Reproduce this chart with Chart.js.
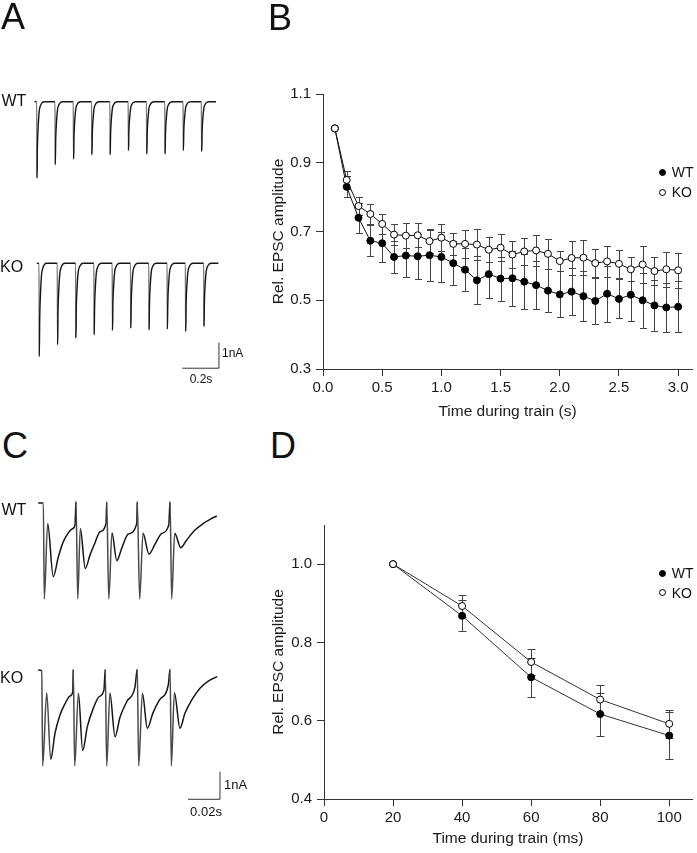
<!DOCTYPE html>
<html lang="en">
<head>
<meta charset="UTF-8">
<title>EPSC trains WT vs KO</title>
<script src="https://cdn.jsdelivr.net/npm/chart.js@4/dist/chart.umd.min.js"></script>
<style>
  html, body { margin: 0; padding: 0; background: #fff; }
  #fig { position: relative; width: 697px; height: 853px; overflow: hidden; font-family: "Liberation Sans", Arial, sans-serif; color: #111; }
  #fig canvas { position: absolute; }
  .lbl { position: absolute; line-height: 1; white-space: nowrap; }
  .panel { font-size: 36px; }
  .cond { font-size: 16px; }
  .bar { font-family: "Liberation Sans Narrow", "Liberation Sans", Arial, sans-serif; font-size: 12px; }
  .leg { font-size: 14px; }
  .dot { position: absolute; width: 7px; height: 7px; border-radius: 50%; box-sizing: border-box; border: 1px solid #000; }
</style>
</head>
<body>
<div id="fig">
  <canvas id="traceA" width="255" height="400" style="left:0;top:0"></canvas>
  <canvas id="chartB" width="442" height="345" style="left:255px;top:80px"></canvas>
  <canvas id="traceC" width="255" height="360" style="left:0;top:470px"></canvas>
  <canvas id="chartD" width="442" height="348" style="left:255px;top:505px"></canvas>

  <div class="lbl panel" style="left:1px;top:-1px">A</div>
  <div class="lbl panel" style="left:268px;top:-0.5px">B</div>
  <div class="lbl panel" style="left:2px;top:427.5px">C</div>
  <div class="lbl panel" style="left:270px;top:427.5px">D</div>

  <div class="lbl cond" style="left:1.5px;top:92.5px">WT</div>
  <div class="lbl cond" style="left:0;top:258.5px">KO</div>
  <div class="lbl cond" style="left:1.5px;top:501.5px">WT</div>
  <div class="lbl cond" style="left:0;top:669.5px">KO</div>

  <div class="lbl bar" style="left:222px;top:346.8px">1nA</div>
  <div class="lbl bar" style="left:181px;top:372.8px;width:40px;text-align:center">0.2s</div>
  <div class="lbl bar" style="left:224px;top:778px;font-size:13px">1nA</div>
  <div class="lbl bar" style="left:186px;top:805px;width:40px;text-align:center;font-size:13px">0.02s</div>

  <div class="dot" style="left:659.2px;top:168.5px;background:#000"></div>
  <div class="lbl leg" style="left:671.7px;top:165.2px">WT</div>
  <div class="dot" style="left:659.2px;top:188.5px;background:#fff"></div>
  <div class="lbl leg" style="left:671.7px;top:185.2px">KO</div>

  <div class="dot" style="left:659.2px;top:569.8px;background:#000"></div>
  <div class="lbl leg" style="left:671.7px;top:566.2px">WT</div>
  <div class="dot" style="left:659.2px;top:589.2px;background:#fff"></div>
  <div class="lbl leg" style="left:671.7px;top:586.2px">KO</div>
</div>

<script>
// ---- panel B: 10 Hz train, relative EPSC amplitude (mean, SEM)
var trainTimeS = [0.1, 0.2, 0.3, 0.4, 0.5, 0.6, 0.7, 0.8, 0.9, 1.0,
                  1.1, 1.2, 1.3, 1.4, 1.5, 1.6, 1.7, 1.8, 1.9, 2.0,
                  2.1, 2.2, 2.3, 2.4, 2.5, 2.6, 2.7, 2.8, 2.9, 3.0];
var wtRelB = [1.00, 0.830, 0.740, 0.673, 0.666, 0.626, 0.630, 0.628, 0.631, 0.626,
              0.608, 0.589, 0.558, 0.576, 0.563, 0.564, 0.554, 0.544, 0.528, 0.517,
              0.525, 0.512, 0.498, 0.519, 0.504, 0.516, 0.500, 0.485, 0.479, 0.481];
var wtSemB = [0, 0.030, 0.043, 0.045, 0.055, 0.047, 0.062, 0.066, 0.074, 0.074,
              0.063, 0.063, 0.070, 0.070, 0.064, 0.080, 0.080, 0.070, 0.062, 0.067,
              0.068, 0.072, 0.067, 0.082, 0.057, 0.076, 0.080, 0.074, 0.072, 0.074];
var koRelB = [1.00, 0.850, 0.774, 0.751, 0.722, 0.691, 0.688, 0.689, 0.672, 0.682,
              0.664, 0.664, 0.662, 0.647, 0.653, 0.633, 0.642, 0.645, 0.635, 0.614,
              0.623, 0.624, 0.608, 0.613, 0.606, 0.590, 0.604, 0.585, 0.590, 0.587];
var koSemB = [0, 0.025, 0.026, 0.030, 0.030, 0.030, 0.037, 0.035, 0.035, 0.040,
              0.033, 0.040, 0.044, 0.036, 0.040, 0.040, 0.040, 0.044, 0.043, 0.030,
              0.050, 0.050, 0.040, 0.046, 0.040, 0.035, 0.055, 0.040, 0.050, 0.050];

// ---- panel D: 50 Hz train
var trainTimeMs = [20, 40, 60, 80, 100];
var wtRelD = [1.00, 0.868, 0.711, 0.617, 0.562];
var wtSemD = [0, 0.040, 0.050, 0.055, 0.059];
var koRelD = [1.00, 0.893, 0.750, 0.654, 0.592];
var koSemD = [0, 0.029, 0.034, 0.036, 0.035];

// ---- panel A: example currents, 10 stimuli (s, nA peak)
var stimTimesA = [0, 0.1, 0.2, 0.3, 0.4, 0.5, 0.6, 0.7, 0.8, 0.9];
var wtPeaksA = [2.99, 2.47, 2.25, 2.08, 2.08, 1.91, 2.05, 2.05, 1.91, 1.95];
var koPeaksA = [3.65, 3.19, 2.93, 2.80, 2.63, 2.54, 2.61, 2.58, 2.67, 2.48];
// one EPSC: [s after stimulus, fraction of peak]
var epscShapeA = [[0, 0], [0.0015, -1], [0.004, -0.58], [0.0085, -0.31],
                  [0.014, -0.12], [0.021, -0.05], [0.03, -0.012], [0.042, 0]];

// ---- panel C: example currents at 50 Hz, [ms, nA]
var wtTraceC = [[-3.8, 0], [-0.6, 0], [0, -3.48], [2.1, -0.74], [5.6, -2.67], [8.8, -1.95], [11.9, -1.40], [15, -1.08], [17.1, -0.95], [19.2, -0.80],
  [19.8, 0.05], [20.9, -3.48], [22.5, -0.92], [25.6, -2.37], [28.6, -1.88], [31.7, -1.44], [34.8, -1.04], [38.6, -0.74],
  [39.0, 0.05], [40.3, -3.48], [42.3, -1.08], [45.3, -2.09], [48.4, -1.64], [52.5, -1.12], [57.8, -0.74],
  [58.1, 0.05], [59.6, -3.48], [61.7, -1.10], [65.4, -1.85], [69.2, -1.49], [73.4, -1.10], [77.8, -0.80],
  [78.6, 0.05], [79.6, -3.48], [81.5, -1.10], [85.3, -1.62], [89, -1.34], [94.2, -0.98], [99.4, -0.74], [103.6, -0.59], [107.8, -0.47]];
var koTraceC = [[-2.8, 0], [-0.6, -0.03], [0, -3.48], [2.5, -0.82], [5, -3.24], [7.7, -2.29], [10.8, -1.63], [13.9, -1.23], [17.1, -0.94], [18.8, -0.79],
  [19.1, 0.03], [20, -3.48], [22.3, -0.84], [25, -2.92], [27.9, -2.05], [31.6, -1.39], [35.2, -0.97], [38.3, -0.72],
  [39.1, 0.03], [40, -3.48], [42, -0.84], [45.2, -2.42], [48.3, -1.71], [52.5, -1.15], [57.7, -0.61],
  [59.1, 0.03], [60, -3.48], [62.3, -0.84], [65.4, -2.11], [68.8, -1.57], [72.9, -1.09], [78.5, -0.54],
  [79.6, 0.03], [80.4, -3.48], [82.3, -0.82], [85.8, -2.11], [88.9, -1.57], [93.1, -1.09], [98.3, -0.66], [103.5, -0.40], [109.1, -0.24]];

var FONT = '"Liberation Sans", Arial, sans-serif';

// vertical SEM bars with caps, drawn under the markers
var errorBars = {
    id: 'errorBars',
    beforeDatasetsDraw: function (chart, args, opts) {
        var ctx = chart.ctx, xs = chart.scales.x, ys = chart.scales.y;
        ctx.save();
        ctx.strokeStyle = '#444';
        ctx.lineWidth = 1;
        chart.data.datasets.forEach(function (ds) {
            if (!ds.errors) return;
            ds.data.forEach(function (p, i) {
                var e = ds.errors[i];
                if (!e) return;
                var px = Math.round(xs.getPixelForValue(p.x)) + 0.5;
                var lo = Math.round(ys.getPixelForValue(p.y - e)) + 0.5;
                var hi = Math.round(ys.getPixelForValue(p.y + e)) + 0.5;
                ctx.beginPath();
                ctx.moveTo(px, lo); ctx.lineTo(px, hi);
                ctx.moveTo(px - opts.cap, lo); ctx.lineTo(px + opts.cap, lo);
                ctx.moveTo(px - opts.cap, hi); ctx.lineTo(px + opts.cap, hi);
                ctx.stroke();
            });
        });
        ctx.restore();
    }
};

function pairs(xs, ys) {
    return xs.map(function (x, i) { return { x: x, y: ys[i] }; });
}

function series(label, xs, ys, errs, fill, lineColor) {
    return {
        label: label,
        data: pairs(xs, ys),
        errors: errs,
        showLine: true,
        borderColor: lineColor,
        borderWidth: 1,
        pointRadius: 3.5,
        pointBorderWidth: 1,
        pointBorderColor: '#000',
        pointBackgroundColor: fill
    };
}

function axis(o) {
    return {
        type: 'linear',
        min: o.min, max: o.max,
        grid: { drawOnChartArea: false, drawTicks: true, tickLength: 7, color: '#333', lineWidth: 1 },
        border: { display: true, color: '#333', width: 1 },
        ticks: {
            stepSize: o.step, includeBounds: false, padding: o.pad, autoSkip: false, maxRotation: 0,
            color: '#1a1a1a', font: { family: FONT, size: 15 }, callback: o.fmt
        },
        title: { display: true, text: o.title, color: '#1a1a1a', font: { family: FONT, size: 15.5 }, padding: o.titlePad },
        afterFit: o.fit
    };
}

function summaryChart(id, datasets, xAxis, yAxis, padding, cap) {
    return new Chart(document.getElementById(id), {
        type: 'scatter',
        data: { datasets: datasets },
        options: {
            responsive: false,
            animation: false,
            devicePixelRatio: 1,
            events: [],
            layout: { padding: padding },
            plugins: { legend: { display: false }, tooltip: { enabled: false }, errorBars: { cap: cap } },
            scales: { x: xAxis, y: yAxis }
        },
        plugins: [errorBars]
    });
}

// B
summaryChart('chartB', [
    series('KO', trainTimeS, koRelB, koSemB, '#fff', '#111'),
    series('WT', trainTimeS, wtRelB, wtSemB, '#000', '#111')
], axis({
    min: 0, max: 3.117, step: 0.5, pad: 3, title: 'Time during train (s)',
    titlePad: { top: 0, bottom: 4 },
    fmt: function (v) { return v.toFixed(1); },
    fit: function (s) { s.height = 56; }
}), axis({
    min: 0.3, max: 1.1, step: 0.2, pad: 5, title: 'Rel. EPSC amplitude',
    titlePad: { top: 14, bottom: 0 },
    fmt: function (v) { return v.toFixed(1); },
    fit: function (s) { s.width = 68; }
}), { top: 12, right: 2, left: 0, bottom: 0 }, 3.5);

// D
summaryChart('chartD', [
    series('KO', trainTimeMs, koRelD, koSemD, '#fff', '#333'),
    series('WT', trainTimeMs, wtRelD, wtSemD, '#000', '#333')
], axis({
    min: 0, max: 106.6, step: 20, pad: 3, title: 'Time during train (ms)',
    titlePad: { top: 0, bottom: 5 },
    fmt: function (v) { return String(v); },
    fit: function (s) { s.height = 54; }
}), axis({
    min: 0.4, max: 1.1, step: 0.2, pad: 5, title: 'Rel. EPSC amplitude',
    titlePad: { top: 14, bottom: 0 },
    fmt: function (v) { return v.toFixed(1); },
    fit: function (s) { s.width = 69; }
}), { top: 20, right: 2, left: 0, bottom: 0 }, 4);

// ---- traces
function fastStroke(grey) {
    return function (c) {
        var dx = Math.abs(c.p1.x - c.p0.x), dy = Math.abs(c.p1.y - c.p0.y);
        return (dy > 40 && dx < 4) ? grey : undefined;
    };
}

function traceSet(points, grey, width) {
    return {
        data: points,
        showLine: true,
        pointRadius: 0,
        borderColor: '#161616',
        borderWidth: width,
        cubicInterpolationMode: 'monotone',
        segment: { borderColor: fastStroke(grey) }
    };
}

function scaleBar(t, v, dt, dv) {
    return {
        data: [{ x: t - dt, y: v }, { x: t, y: v }, { x: t, y: v + dv }],
        showLine: true, pointRadius: 0, tension: 0,
        borderColor: '#333', borderWidth: 1
    };
}

function traceChart(id, xr, yr, datasets) {
    return new Chart(document.getElementById(id), {
        type: 'scatter',
        data: { datasets: datasets },
        options: {
            responsive: false, animation: false, devicePixelRatio: 1, events: [],
            layout: { padding: 0 },
            plugins: { legend: { display: false }, tooltip: { enabled: false } },
            scales: {
                x: { type: 'linear', display: false, min: xr[0], max: xr[1] },
                y: { type: 'linear', display: false, min: yr[0], max: yr[1] }
            }
        }
    });
}

function trainA(peaks, dt, dv) {
    var pts = [{ x: stimTimesA[0] - 0.012 + dt, y: dv }];
    stimTimesA.forEach(function (t0, i) {
        epscShapeA.forEach(function (s) {
            pts.push({ x: t0 + s[0] + dt, y: s[1] * peaks[i] + dv });
        });
    });
    pts.push({ x: 0.98 + dt, y: dv });
    return pts;
}

function shifted(trace, dt, dv) {
    return trace.map(function (p) { return { x: p[0] + dt, y: p[1] + dv }; });
}

// A: 183 px per s, 25.6 px per nA; KO drawn 6.31 nA lower
traceChart('traceA', [-0.2005, 1.1929], [-11.652, 3.9727], [
    traceSet(trainA(wtPeaksA, 0, 0), '#7a7a7a', 1.4),
    traceSet(trainA(koPeaksA, 0.0126, -6.3125), '#7a7a7a', 1.4),
    scaleBar(0.996, -10.41, 0.2, 1)
]);

// C: 1.6 px per ms, 27.6 px per nA
traceChart('traceC', [-27.69, 131.69], [-11.848, 1.1957], [
    traceSet(shifted(wtTraceC, 0, 0), '#4a4a4a', 1.5),
    traceSet(shifted(koTraceC, -1.0, -6.051), '#4a4a4a', 1.5),
    scaleBar(109.8, -10.735, 20, 1)
]);
</script>
</body>
</html>
